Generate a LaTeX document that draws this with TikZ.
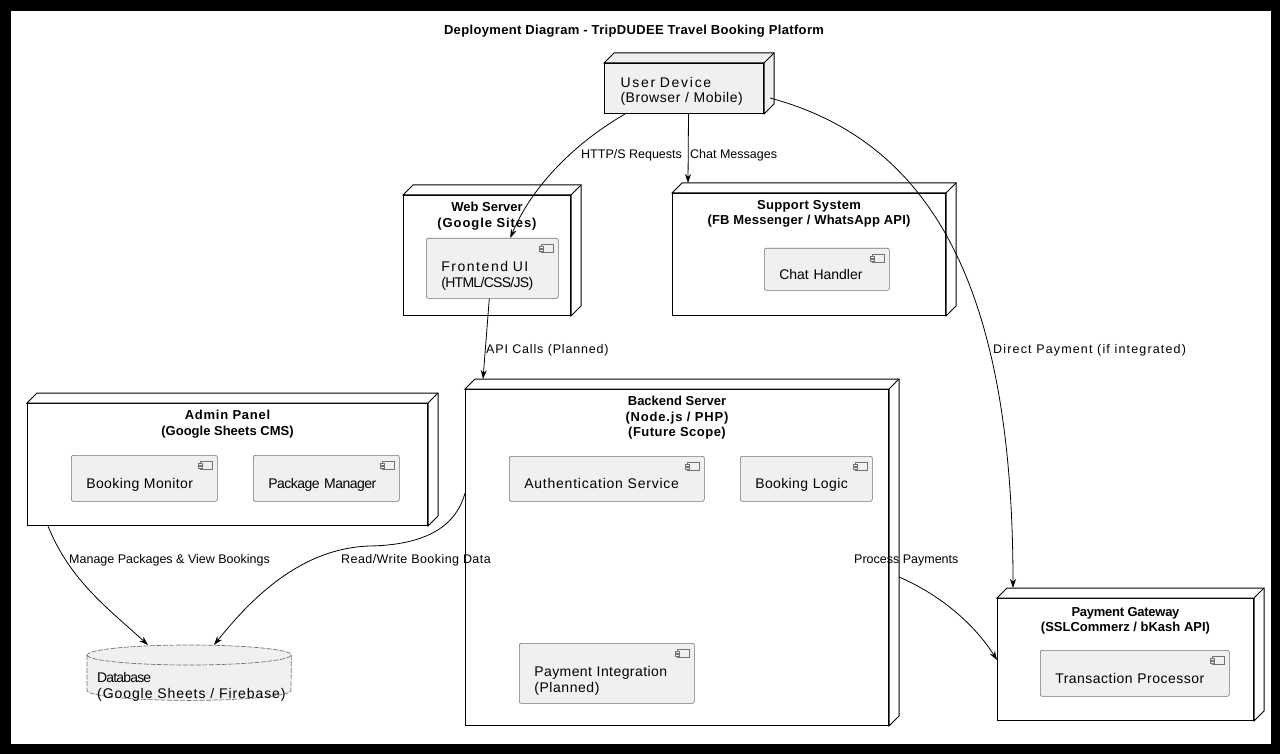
\documentclass[tikz,border=0pt]{standalone}
\usepackage{fontspec}
\setmainfont{Liberation Sans}
\usetikzlibrary{arrows.meta, calc}
\newcommand{\trk}[2]{{\addfontfeature{LetterSpace=#1}#2}}
\tikzstyle{devbox} = [rectangle, draw, line width=1pt, fill=white, anchor=north west, inner sep=0pt]
\tikzstyle{devgrey} = [devbox, fill=black!6, align=left, inner xsep=16pt, font=\fontsize{14}{15.5}\selectfont]
\tikzstyle{nodetitle} = [anchor=north, align=center, inner sep=0pt, yshift=-7pt, font=\fontsize{13}{15.5}\selectfont\bfseries]
\tikzstyle{comp} = [rectangle, rounded corners=2pt, draw=black!55, line width=0.6pt, fill=black!6, anchor=north west, inner xsep=15pt, inner ysep=0pt, align=left, text height=20pt, text depth=0pt, font=\fontsize{14}{15.5}\selectfont]
\tikzstyle{comptwo} = [comp, text height=25pt, text depth=18.5pt]
\tikzstyle{icon} = [draw=black!55, line width=0.5pt]
\tikzstyle{dbline} = [draw=black!55, line width=0.7pt, dash pattern=on 5pt off 1.5pt]
\tikzstyle{lbl} = [anchor=west, inner sep=0pt, font=\fontsize{12.5}{14}\selectfont]
\tikzstyle{arrow} = [line width=0.8pt, ->, >={Stealth[length=9pt,width=6pt]}]

\begin{document}
\begin{tikzpicture}[x=1pt, y=-1pt]
	% frame
	\fill [black] (0,0) rectangle (1280,754);
	\fill [white] (11,11) rectangle (1271,744);
	\node [font=\fontsize{13}{15}\selectfont\bfseries] at (634,31.5) (title) {\trk{2.6}{Deployment Diagram - TripDUDEE Travel Booking Platform}};

	% nodes
	\node [devgrey, text width=127pt, minimum height=50pt, text height=16.5pt, text depth=18.5pt] at (604,63) (user) {\trk{12.3}{User Device}\\\trk{4}{(Browser / Mobile)}};
	\node [devbox, minimum width=167pt, minimum height=120pt, label={[nodetitle]north:{Web Server\\\trk{7}{(Google Sites)}}}] at (403,195) (web) {};
	\node [devbox, minimum width=273pt, minimum height=122pt, label={[nodetitle]north:{\trk{2.7}{Support System}\\\trk{1.6}{(FB Messenger / WhatsApp API)}}}] at (672,193) (support) {};
	\node [devbox, minimum width=400pt, minimum height=122pt, label={[nodetitle]north:{\trk{5.6}{Admin Panel}\\(Google Sheets CMS)}}] at (27,403) (admin) {};
	\node [devbox, minimum width=423pt, minimum height=336pt, label={[nodetitle]north:{Backend Server\\\trk{6.2}{(Node.js / PHP)}\\\trk{3.8}{(Future Scope)}}}] at (465,389) (backend) {};
	\node [devbox, minimum width=256pt, minimum height=122pt, label={[nodetitle, yshift=-2pt]north:{\trk{-2}{Payment Gateway}\\(SSLCommerz / bKash API)}}] at (997,598) (pg) {};

	% 3d faces
	\foreach \n/\c in {user/black!6, web/white, support/white, admin/white, backend/white, pg/white} {
		\draw [line width=1pt, fill=\c] (\n.north west) -- ++(10,-10) -| ($(\n.south east)+(10,-10)$) -- (\n.south east) -- (\n.north east) -- cycle;
		\draw [line width=1pt] (\n.north east) -- ++(10,-10);
	}

	% components
	\node [comptwo, text width=102pt, minimum height=60pt] at (426,238) (front) {\trk{11}{Frontend UI}\\\trk{-5}{(HTML/CSS/JS)}};
	\node [comp, text width=95pt, minimum height=42pt] at (764,248) (chat) {Chat Handler};
	\node [comp, text width=116pt, minimum height=46pt] at (71,455) (bmon) {\trk{2.9}{Booking Monitor}};
	\node [comp, text width=116pt, minimum height=46pt] at (253,455) (pkg) {\trk{-3.8}{Package Manager}};
	\node [comp, text width=165pt, minimum height=45pt] at (509,456) (auth) {\trk{5.5}{Authentication Service}};
	\node [comp, text width=102pt, minimum height=45pt] at (740,456) (blogic) {\trk{2.7}{Booking Logic}};
	\node [comptwo, text width=145pt, minimum height=60pt] at (519,643) (payint) {\trk{3}{Payment Integration}\\\trk{4}{(Planned)}};
	\node [comp, text width=159pt, minimum height=46pt] at (1040,650) (tproc) {\trk{3.4}{Transaction Processor}};

	\foreach \c in {front, chat, bmon, pkg, auth, blogic, payint, tproc} {
		\draw [icon] ($(\c.north east)+(-17,6)$) rectangle ++(12,8);
		\draw [icon, fill=black!6] ($(\c.north east)+(-19,8)$) rectangle ++(4,2);
		\draw [icon, fill=black!6] ($(\c.north east)+(-19,11)$) rectangle ++(4,2);
	}

	% database
	\node [minimum width=204pt, minimum height=55pt, anchor=north west, inner sep=0pt] at (87,645) (db) {};
	\draw [dbline, fill=black!6] ($(db.north west)+(0,10)$) -- ($(db.south west)+(0,-10)$) arc (180:360:102pt and 10pt) -- ($(db.north east)+(0,10)$) arc (0:180:102pt and 10pt) -- cycle;
	\draw [dbline] ($(db.north west)+(0,10)$) arc (180:360:102pt and 10pt);
	\node [anchor=west, xshift=10pt, yshift=-14pt, inner sep=0pt, align=left, font=\fontsize{14}{15.5}\selectfont] at (db.west) (dbtext) {\trk{-6}{Database}\\\trk{6.6}{(Google Sheets / Firebase)}};

	% connectors
	\draw [arrow] ([xshift=21pt]user.south west) .. controls +(-55,32) and +(20,-48) .. ([xshift=18pt]front.north);
	\draw [arrow] ([xshift=4.5pt]user.south) -- ($(support.north west)+(16,-10)$);
	\draw [arrow] ($(user.south east)+(6,-16)$) .. controls +(160,43) and +(0,-303) .. ($(pg.north west)+(16,-10)$);
	\draw [arrow] ([xshift=-3pt]front.south) -- ($(backend.north west)+(18,-10)$);
	\draw [arrow] ($(admin.south west)+(21,0)$) .. controls +(22,55) and +(-38,-35) .. ($(db.north west)+(61,0)$);
	\draw [arrow] ($(backend.north west)+(0,104)$) .. controls +(-10,37) and +(50,-1) .. (370,546) .. controls +(-70,2) and +(36,-45) .. ($(db.north west)+(127,0)$);
	\draw [arrow] ($(backend.north east)+(10,188)$) .. controls +(42,18) and +(-22,-35) .. ($(pg.north west)+(0,62)$);

	% connector labels
	\node [lbl] at (581,155) (lhttp) {HTTP/S Requests};
	\node [lbl] at (690,155) (lchat) {Chat Messages};
	\node [lbl] at (993,350) (ldirect) {\trk{9.3}{Direct Payment (if integrated)}};
	\node [lbl] at (486,350) (lapi) {\trk{6.7}{API Calls (Planned)}};
	\node [lbl] at (69,560) (lmanage) {Manage Packages \& View Bookings};
	\node [lbl] at (341,560) (lrw) {\trk{3.5}{Read/Write Booking Data}};
	\node [lbl] at (854,560) (lpay) {Process Payments};
\end{tikzpicture}
\end{document}
